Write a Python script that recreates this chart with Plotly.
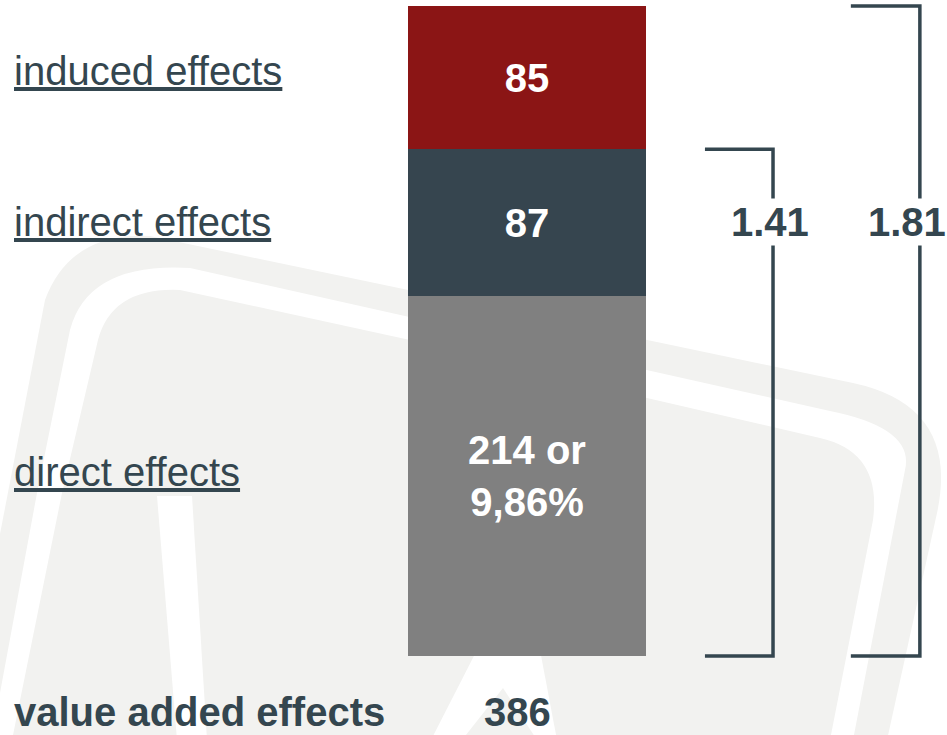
import plotly.graph_objects as go

# ---------------- data ----------------
categories = ["direct effects", "indirect effects", "induced effects"]
values = [214, 87, 85]
bar_labels = ["214 or<br>9,86%", "87", "85"]
multiplier_labels = ["1.41", "1.81"]
total_label = "value added effects"

# ---------------- style ----------------
W, H = 947, 735
FONT = "Liberation Sans, Arial, sans-serif"
DARK = "#34464f"
BAR_COLORS = ["#808080", "#36454f", "#8b1515"]
WM_GRAY = "#f2f2f0"
LABEL_SHIFT = [4, 0, 7]

fig = go.Figure()

# stacked bar segments
for cat, v, lab, col in zip(categories, values, bar_labels, BAR_COLORS):
    fig.add_trace(go.Bar(
        x=[0], y=[v], name=cat, width=1,
        marker=dict(color=col, line=dict(width=0)),
        text=[lab], textposition="inside", insidetextanchor="middle",
        textangle=0, constraintext="none",
        textfont=dict(family=FONT, size=40, color="white", weight="bold"),
        hoverinfo="skip",
    ))

# cumulative tops
cum = []
s = 0
for v in values:
    s += v
    cum.append(s)
mids = [c - v / 2 for c, v in zip(cum, values)]

# brackets (multiplier spans)
bracket_x = [(0.748, 1.034), (1.361, 1.651)]
bracket_top = [cum[1], cum[2]]
for (xa, xb), top in zip(bracket_x, bracket_top):
    fig.add_trace(go.Scatter(
        x=[xa, xb, xb, xa], y=[top, top, 0, 0], mode="lines",
        line=dict(color=DARK, width=3.5), hoverinfo="skip", showlegend=False,
    ))

annotations = []
# left category labels (underlined)
for cat, m, sh in zip(categories, mids, LABEL_SHIFT):
    annotations.append(dict(
        x=12 / W, xref="paper", y=m, yref="y", xanchor="left", yanchor="middle",
        text=f"<u>{cat}</u>", showarrow=False, yshift=sh,
        font=dict(family=FONT, size=40, color=DARK),
    ))
# multiplier labels
mult_x = [1.021, 1.597]
for lab, mx in zip(multiplier_labels, mult_x):
    annotations.append(dict(
        x=mx, xref="x", y=mids[1], yref="y", xanchor="center", yanchor="middle",
        text=lab, showarrow=False, bgcolor="white", borderpad=1,
        font=dict(family=FONT, size=40, color=DARK, weight="bold"),
    ))
# total row
annotations.append(dict(
    x=12 / W, xref="paper", y=1 - 712 / H, yref="paper", xanchor="left", yanchor="middle",
    text=total_label, showarrow=False,
    font=dict(family=FONT, size=40, color=DARK, weight="bold"),
))
annotations.append(dict(
    x=-0.04, xref="x", y=1 - 712 / H, yref="paper", xanchor="center", yanchor="middle",
    text=str(sum(values)), showarrow=False,
    font=dict(family=FONT, size=40, color=DARK, weight="bold"),
))

# ---------------- watermark (decorative background logo) ----------------
def P(pts_cmds):
    out = []
    for cmd in pts_cmds:
        if cmd == "Z":
            out.append("Z")
            continue
        letter, coords = cmd[0], cmd[1:]
        parts = []
        for (x, y) in coords:
            parts.append(f"{x / W:.5f},{1 - y / H:.5f}")
        out.append(letter + " " + " ".join(parts))
    return " ".join(out)

outer = P([("M", (-5, 560)), ("L", (45, 300)), ("Q", (70, 232), (150, 236)),
           ("L", (853, 383)), ("Q", (960, 406), (937, 513)), ("L", (887, 740)),
           ("L", (-5, 740)), "Z"])
white1 = P([("M", (-5, 720)), ("L", (37, 493)), ("L", (70, 330)), ("Q", (88, 262), (190, 268)),
            ("L", (830, 411)), ("Q", (915, 428), (905, 470)), ("L", (853, 740)),
            ("L", (-5, 740)), "Z"])
inner = P([("M", (12, 740)), ("L", (62, 493)), ("L", (98, 340)), ("Q", (112, 287), (180, 290)),
           ("L", (410, 340)), ("L", (647, 398)), ("L", (820, 438)), ("Q", (882, 452), (873, 520)),
           ("L", (830, 740)), "Z"])
leg_left = P([("M", (157, 496)), ("L", (192, 496)), ("L", (207, 740)), ("L", (177, 740)), "Z"])
a_shape = P([("M", (477, 650)), ("L", (540, 650)), ("L", (557, 740)), ("L", (431, 740)), "Z"])
a_inner = P([("M", (503, 688)), ("L", (537, 740)), ("L", (462, 740)), "Z"])

shapes = []
for path, col in [(outer, WM_GRAY), (white1, "white"), (inner, WM_GRAY),
                  (leg_left, "white"), (a_shape, "white"), (a_inner, WM_GRAY)]:
    shapes.append(dict(type="path", path=path, xref="paper", yref="paper",
                       fillcolor=col, line=dict(width=0), layer="below"))

# axis geometry: bar of width 1 centred at x=0
fig.update_layout(
    width=W, height=H,
    margin=dict(l=0, r=0, t=0, b=0),
    paper_bgcolor="white", plot_bgcolor="rgba(0,0,0,0)",
    barmode="stack", bargap=0, showlegend=False,
    xaxis=dict(range=[-2.214, 1.765], visible=False, fixedrange=True),
    yaxis=dict(range=[-46.9, 389.6], visible=False, fixedrange=True),
    annotations=annotations, shapes=shapes,
)

fig.write_html("out.html")
